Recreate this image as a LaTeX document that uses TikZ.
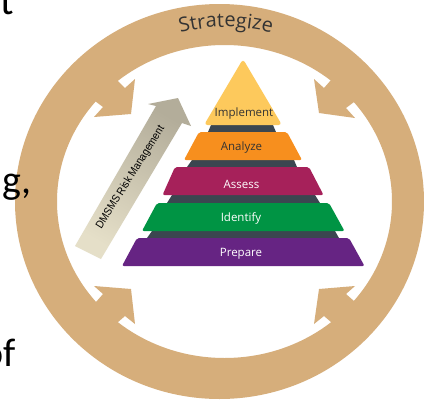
\documentclass[tikz,border=0pt]{standalone}
\usepackage{fontspec}
\setmainfont{Open Sans}
\newfontfamily\slidefont{Carlito}
\newfontfamily\arrowfont{Liberation Sans}
\usetikzlibrary{decorations.text}
\definecolor{ringtan}{HTML}{D6AE7B}
\definecolor{pyyellow}{HTML}{FDC95C}
\definecolor{pyorange}{HTML}{F78F1E}
\definecolor{pycrimson}{HTML}{A6215A}
\definecolor{pygreen}{HTML}{009444}
\definecolor{pypurple}{HTML}{662483}
\definecolor{pydark}{HTML}{3B4650}
\definecolor{inkdark}{HTML}{333333}
\definecolor{arrowlight}{HTML}{E5DFC8}
\definecolor{arrowmid}{HTML}{D3CDB7}
\definecolor{arrowdark}{HTML}{B3AD9A}
\tikzset{
  ringpart/.style={fill=ringtan,draw=none},
  tier/.style={draw=none,rounded corners=2pt},
  band/.style={fill=pydark,draw=none},
  tierlabel/.style={font=\fontsize{11.5}{12}\selectfont,text=white,inner sep=0pt,anchor=base},
  tierlabeldark/.style={font=\fontsize{11.5}{12}\selectfont,text=inkdark,inner sep=0pt,anchor=base},
  slidetext/.style={font=\slidefont\fontsize{40}{40}\selectfont,text=black,inner sep=0pt,anchor=base east},
}
\begin{document}
\begin{tikzpicture}[x=1pt,y=-1pt]
\useasboundingbox (0,0) rectangle (424,400);
\begin{scope}
\clip (0,0) rectangle (424,400);
\fill[white] (0,0) rectangle (424,400);
% ring
\fill[ringpart,even odd rule] (219.5,201.5) ellipse [x radius=204.5,y radius=197.5]
  (224.5,201.5) ellipse [x radius=167.5,y radius=156.5];
% arrow heads
\fill[ringpart] (117,80) -- (125,88) -- (135,79) -- (131,114) -- (94,117) -- (103,107) -- (95,101) -- (90,85) -- (105,70) -- cycle;
\fill[ringpart] (331,80) -- (324,88) -- (314,79) -- (319,113) -- (355,118) -- (346,108) -- (354,102) -- (360,85) -- (345,70) -- cycle;
\fill[ringpart] (117,323) -- (125,316) -- (135,324) -- (131,289) -- (94,286) -- (103,294) -- (96,302) -- (90,318) -- (105,333) -- cycle;
\fill[ringpart] (331,322) -- (324,316) -- (314,324) -- (319,289) -- (355,286) -- (346,294) -- (354,301) -- (360,318) -- (345,333) -- cycle;
% slide text fragments
\node[slidetext] (fragt) at (14,14) {t};
\node[slidetext] (fragng) at (32,193) {ng,};
\node[slidetext] (fragof) at (16,366) {of};
% Strategize
\path[decorate,decoration={text along path,text align=center,
  text={|\fontsize{20}{20}\selectfont\color{inkdark}|Strategize}}]
  (165,37.5) .. controls (205,23.5) and (245,23.5) .. (287,37.5);
% dark bands
\fill[band] (211,125) -- (273,125) -- (276,132) -- (208,132) -- cycle;
\fill[band] (192,160) -- (294,160) -- (297,167) -- (187,167) -- cycle;
\fill[band] (172,195) -- (315,195) -- (320,203) -- (167,203) -- cycle;
\fill[band] (152,231) -- (335,231) -- (339,238) -- (147,238) -- cycle;
% tiers
\fill[tier,pyyellow,rounded corners=3.5pt] (243,59) -- (282,125) -- (204,125) -- cycle;
\fill[tier,pyorange] (199,132) -- (287,132) -- (302,160) -- (184,160) -- cycle;
\fill[tier,pycrimson] (175,167) -- (309,167) -- (323.5,195) -- (162.5,195) -- cycle;
\fill[tier,pygreen] (157,203) -- (329,203) -- (344.5,231) -- (142,231) -- cycle;
\fill[tier,pypurple] (137,238) -- (349,238) -- (364.5,266) -- (122,266) -- cycle;
\node[tierlabeldark] (impl) at (244,116) {Implement};
\node[tierlabeldark] (anal) at (241.5,150) {Analyze};
\node[tierlabel] (assess) at (241.5,188) {Assess};
\node[tierlabel] (ident) at (241,221) {Identify};
\node[tierlabel] (prep) at (241,256) {Prepare};
% gradient arrow
\shade[bottom color=arrowlight,middle color=arrowmid,top color=arrowdark,shading angle=-30]
  (75,246) -- (156,106) -- (148,104) -- (178,98) -- (191,126) -- (182,123) -- (101,259) -- cycle;
\node[font=\arrowfont\fontsize{11}{11}\selectfont,text=black,inner sep=0pt,rotate=58] (dmsms) at (130.5,177.5) {\scalebox{0.9}[1]{DMSMS Risk Management}};
\end{scope}
\end{tikzpicture}
\end{document}
